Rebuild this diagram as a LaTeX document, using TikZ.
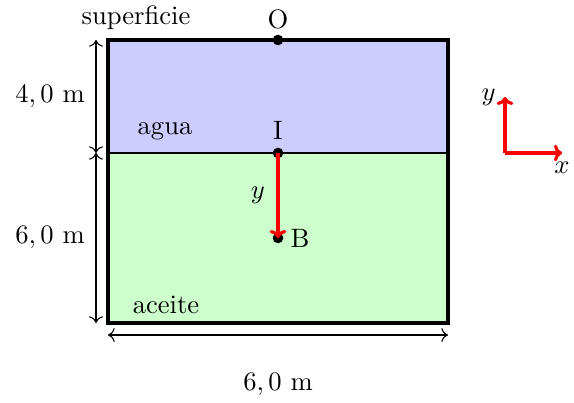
\documentclass[tikz,border=0pt]{standalone}
\usepackage{amsmath}
\usepackage{xcolor}
\usepackage{tikz}
\usetikzlibrary{arrows.meta,positioning}
\definecolor{tankwater}{HTML}{CCCCFF}
\definecolor{tankoil}{HTML}{CCFFCC}

\begin{document}
\begin{tikzpicture}[x=0.376pt,y=-0.376pt,
    pointdot/.style={circle,fill=black,inner sep=0pt,minimum size=4pt},
    dimline/.style={{To[length=2.5pt]}-{To[length=2.5pt]},line width=0.4pt},
    redvec/.style={-{To[length=3pt]},red,line width=1.2pt}]
  \useasboundingbox (0,0) rectangle (574,403);
  % tanque
  \fill[tankwater] (108,40) rectangle (448,153);
  \fill[tankoil] (108,153) rectangle (448,323);
  \draw (108,153)--(448,153);
  \draw[line width=1.2pt] (108,40) rectangle (448,323);
  \node at (136,18) {superficie};
  \node at (165,131) {agua};
  \node at (166,305) {aceite};
  % puntos
  \node[pointdot] (O) at (278,40) {};
  \node[pointdot] (I) at (278,153) {};
  \node[pointdot] (B) at (278,238) {};
  \node[above=-1.5pt of O] {O};
  \node[above=-0.5pt of I] {I};
  \node[right=-1pt of B] {B};
  \draw[redvec] (I.center)--(B.center) node[midway,left=1pt,black] {$y$};
  % cotas
  \coordinate (v1) at (96,40);
  \coordinate (v2) at (96,153);
  \coordinate (v3) at (96,323);
  \draw[dimline] (v1)--(v2);
  \draw[dimline] (v2)--(v3);
  \node at (50,97) {$4,0$~m};
  \node at (50,238) {$6,0$~m};
  \coordinate (h1) at (108,335);
  \coordinate (h2) at (448,335);
  \draw[dimline] (h1)--(h2);
  \node at (278,385) {$6,0$~m};
  % ejes
  \coordinate (ax0) at (505,153);
  \coordinate (axy) at (505,97);
  \coordinate (axx) at (562,153);
  \draw[redvec] (ax0)--(axy);
  \draw[redvec] (ax0)--(axx);
  \node[left=0pt of axy] {$y$};
  \node[below=0pt of axx] {$x$};
\end{tikzpicture}
\end{document}
